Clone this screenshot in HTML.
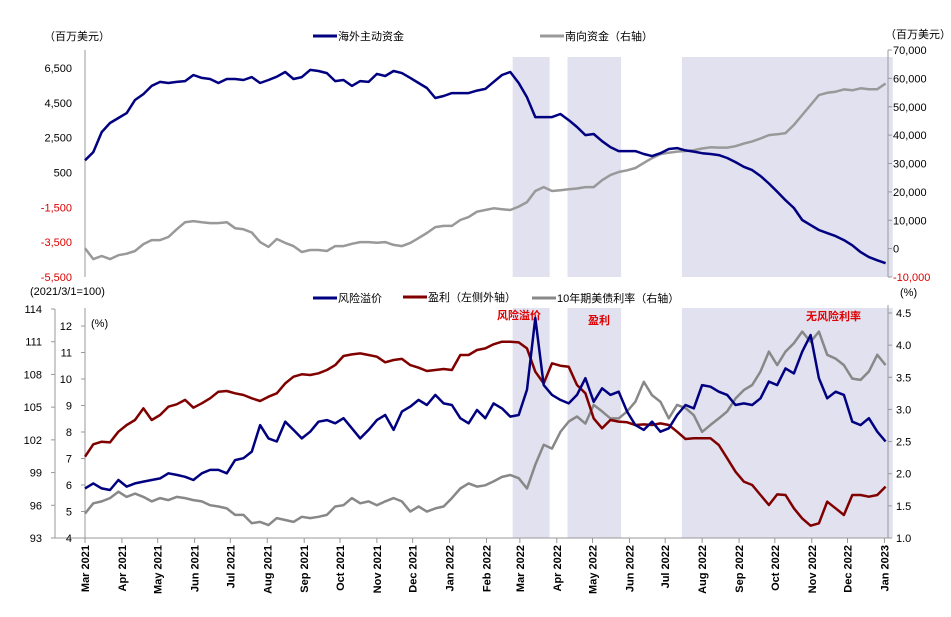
<!DOCTYPE html>
<html><head><meta charset="utf-8">
<style>
html,body{margin:0;padding:0;background:#fff;}
svg{display:block;font-family:"Liberation Sans","Noto Sans CJK SC",sans-serif;}
</style></head>
<body>
<svg id="chart" width="951" height="617" viewBox="0 0 951 617" xmlns="http://www.w3.org/2000/svg"></svg>
<script>
// ---------- DATA (weekly samples, week 0 = 2021-03-01) ----------
const topForeign = [1200,1670,2820,3340,3630,3910,4660,5000,5470,5700,5640,5700,5750,6100,5930,5870,5640,5870,5870,5810,5980,5640,5810,6000,6270,5870,5980,6390,6330,6210,5750,5810,5470,5750,5700,6160,6040,6330,6210,5930,5640,5350,4780,4890,5060,5060,5060,5200,
5300,5700,6100,6270,5640,4820,3680,3680,3680,3860,3510,3110,2650,2710,2300,1960,1730,1730,1730,1560,1440,1610,1850,1900,1770,1700,1610,1560,1500,1330,1100,830,640,300,-130,-600,-1090,-1540,-2230,-2520,-2800,-2980,-3150,-3380,-3680,-4070,-4360,-4540,-4710];
const topSouth = [100,-3700,-2600,-3700,-2300,-1800,-850,1600,3000,3000,4100,6800,9300,9700,9300,9000,9000,9300,7200,6800,5700,2300,600,3400,2000,900,-1200,-500,-500,-850,900,900,1700,2300,2300,2100,2300,1300,900,2000,3700,5500,7600,8000,8000,10100,11100,13000,
13600,14200,13900,13600,14800,16400,20300,21700,20300,20600,20900,21200,21700,21700,24100,25900,27000,27600,28400,30200,31900,33300,33800,34200,34400,34700,35300,35700,35600,35600,36100,37000,37800,38800,40000,40300,40700,43600,47100,50600,54100,54900,55300,56100,55800,56500,56200,56200,58200];
const riskPremium = [5.87,6.06,5.87,5.81,6.19,5.94,6.06,6.13,6.19,6.25,6.44,6.38,6.31,6.19,6.44,6.57,6.57,6.44,6.94,7.01,7.26,8.26,7.76,7.64,8.39,8.08,7.76,8.01,8.39,8.45,8.33,8.52,8.14,7.76,8.08,8.45,8.64,8.08,8.77,8.96,9.21,9.02,9.40,9.08,9.02,8.52,8.33,8.83,
8.52,9.08,8.89,8.58,8.64,9.6,12.3,9.77,9.40,9.21,9.08,9.40,10.03,9.14,9.65,9.40,9.52,8.77,8.26,8.08,8.39,8.01,8.14,8.64,9.02,8.89,9.77,9.71,9.52,9.40,9.02,9.08,9.02,9.27,9.90,9.77,10.40,10.21,11.03,11.66,10.03,9.27,9.52,9.40,8.39,8.26,8.52,8.01,7.64];
const earnings = [100.46,101.59,101.83,101.77,102.75,103.36,103.82,104.89,103.82,104.28,105.04,105.26,105.66,104.95,105.35,105.81,106.42,106.48,106.27,106.11,105.81,105.56,105.96,106.27,107.18,107.79,108.01,107.95,108.10,108.41,108.86,109.69,109.84,109.93,109.78,109.63,109.11,109.32,109.42,108.86,108.62,108.31,108.41,108.50,108.41,109.78,109.78,110.24,
110.39,110.76,111.0,111.0,110.94,110.39,108.25,107.18,109.02,108.80,108.71,107.03,106.27,103.97,103.06,103.82,103.67,103.61,103.36,103.42,103.36,103.51,103.36,102.75,102.08,102.14,102.14,102.14,101.53,100.31,99.08,98.17,97.86,96.94,96.03,97.0,96.94,95.72,94.80,94.13,94.35,96.33,95.72,95.11,96.94,96.94,96.79,96.94,97.71];
const ust10y = [1.38,1.54,1.57,1.62,1.72,1.64,1.69,1.64,1.57,1.62,1.59,1.64,1.62,1.59,1.57,1.51,1.49,1.46,1.36,1.36,1.23,1.25,1.20,1.31,1.28,1.25,1.33,1.31,1.33,1.36,1.49,1.51,1.62,1.54,1.57,1.51,1.57,1.62,1.57,1.41,1.49,1.41,1.46,1.49,1.62,1.77,1.85,1.80,
1.82,1.88,1.95,1.98,1.93,1.77,2.14,2.45,2.39,2.65,2.81,2.89,2.78,3.07,2.97,2.86,2.86,2.97,3.12,3.43,3.22,3.12,2.86,3.07,3.02,2.91,2.65,2.76,2.86,2.97,3.17,3.30,3.38,3.59,3.90,3.69,3.90,4.03,4.21,4.05,4.21,3.85,3.79,3.69,3.48,3.46,3.59,3.85,3.69];
const monthLabels = ["Mar 2021","Apr 2021","May 2021","Jun 2021","Jul 2021","Aug 2021","Sep 2021","Oct 2021","Nov 2021","Dec 2021","Jan 2022","Feb 2022","Mar 2022","Apr 2022","May 2022","Jun 2022","Jul 2022","Aug 2022","Sep 2022","Oct 2022","Nov 2022","Dec 2022","Jan 2023"];
const monthDays = [0,31,61,92,122,153,184,214,245,275,306,337,365,396,426,457,487,518,549,579,610,640,671];
const shadeStart = [359,405,501]; // day offsets
const shadeEnd = [390,450,678];
const topLeftTicks = [6500,4500,2500,500,-1500,-3500,-5500];
const topRightTicks = [70000,60000,50000,40000,30000,20000,10000,0,-10000];
const outerTicks = [114,111,108,105,102,99,96,93];
const innerTicks = [12,11,10,9,8,7,6,5,4];
const rightTicks = [4.5,4.0,3.5,3.0,2.5,2.0,1.5,1.0];

// ---------- SCALES ----------
const X0=85, X1=888, TOTALDAYS=674;
const xDay = d => X0 + d*(X1-X0)/TOTALDAYS;
const xWeek = i => xDay(i*7);
const yTopL = v => 68 + (6500-v)*(277-68)/12000;
const yTopR = v => 50 + (70000-v)*(277-50)/80000;
const yOuter = v => 309 + (114-v)*(538-309)/21;
const yInner = v => 326 + (12-v)*(538-326)/8;
const yRight = v => 313 + (4.5-v)*(538-313)/3.5;

const NS="http://www.w3.org/2000/svg";
const svg=document.getElementById('chart');
function mk(tag, attrs, parent){const e=document.createElementNS(NS,tag);for(const k in attrs)e.setAttribute(k,attrs[k]);(parent||svg).appendChild(e);return e;}
function txt(x,y,s,attrs){const e=mk('text',Object.assign({x:x,y:y,'font-size':11,fill:'#000'},attrs||{}));e.textContent=s;return e;}
const fmt = v => (v<0?'-':'')+Math.abs(v).toLocaleString('en-US');

// shading
for(let k=0;k<shadeStart.length;k++){
  const r=mk('rect',{x:xDay(shadeStart[k]),y:57,width:xDay(shadeEnd[k])-xDay(shadeStart[k]),height:220,fill:'#e1e1ef'});
  
  
  const r2=mk('rect',{x:xDay(shadeStart[k]),y:308,width:xDay(shadeEnd[k])-xDay(shadeStart[k]),height:230,fill:'#e1e1ef'});
  
  
}

// ---------- TOP CHART AXES ----------
let a=mk('line',{x1:85,y1:50,x2:85,y2:277,stroke:'#999'});


a=mk('line',{x1:888,y1:50,x2:888,y2:277,stroke:'#999'});


topLeftTicks.forEach(v=>{
  const t=txt(72,yTopL(v)+4,fmt(v),{'text-anchor':'end',fill:v<0?'#d00':'#000'});
  
  
});
topRightTicks.forEach(v=>{
  mk('line',{x1:888,y1:yTopR(v),x2:892,y2:yTopR(v),stroke:'#999'});
  const t=txt(893,yTopR(v)+4,fmt(v),{fill:v<0?'#d00':'#000'});
  
  
});
let t=txt(44,40,'（百万美元）',{});


t=txt(885,38,'（百万美元）',{});



// top legend
let g=mk('g',{});


mk('line',{x1:313,y1:36,x2:337,y2:36,stroke:'#000080','stroke-width':3},g);
g.appendChild(txt(338,40,'海外主动资金'));
g=mk('g',{});


mk('line',{x1:540,y1:36,x2:564,y2:36,stroke:'#999','stroke-width':3},g);
g.appendChild(txt(565,40,'南向资金（右轴）'));

function line(arr, xf, yf, color, name){
  const d=arr.map((v,i)=>(i?'L':'M')+xf(i).toFixed(1)+','+yf(v).toFixed(1)).join('');
  const p=mk('path',{d:d,fill:'none',stroke:color,'stroke-width':2.5,'stroke-linejoin':'round'});
  
  
}
line(topSouth, xWeek, yTopR, '#999999', 'southbound-funds-line');
line(topForeign, xWeek, yTopL, '#000080', 'foreign-funds-line');

// ---------- BOTTOM CHART ----------
a=mk('line',{x1:55,y1:309,x2:55,y2:538,stroke:'#999'});


a=mk('line',{x1:85,y1:308,x2:85,y2:538,stroke:'#999'});


a=mk('line',{x1:888,y1:305,x2:888,y2:538,stroke:'#999'});


a=mk('line',{x1:55,y1:538,x2:888,y2:538,stroke:'#999'});


outerTicks.forEach(v=>{
  mk('line',{x1:51,y1:yOuter(v),x2:55,y2:yOuter(v),stroke:'#999'});
  const tt=txt(42,yOuter(v)+4,String(v),{'text-anchor':'end'});
  
  
});
innerTicks.forEach(v=>{
  mk('line',{x1:81,y1:yInner(v),x2:85,y2:yInner(v),stroke:'#999'});
  const tt=txt(72,yInner(v)+4,String(v),{'text-anchor':'end'});
  
  
});
rightTicks.forEach(v=>{
  mk('line',{x1:888,y1:yRight(v),x2:892,y2:yRight(v),stroke:'#999'});
  const tt=txt(896,yRight(v)+4,v.toFixed(1),{});
  
  
});
monthLabels.forEach((m,i)=>{
  const x=xDay(monthDays[i]);
  mk('line',{x1:x,y1:538,x2:x,y2:543,stroke:'#999'});
  const tt=txt(0,0,m,{'text-anchor':'end',transform:'translate('+(x+4)+',545) rotate(-90)','font-weight':'bold'});
  
  
});
t=txt(30,295,'(2021/3/1=100)',{});


t=txt(91,327,'(%)',{});


t=txt(900,296,'(%)',{});



g=mk('g',{});


mk('line',{x1:313,y1:298,x2:337,y2:298,stroke:'#000080','stroke-width':3},g);
g.appendChild(txt(338,302,'风险溢价'));
g=mk('g',{});


mk('line',{x1:403,y1:297,x2:427,y2:297,stroke:'#800000','stroke-width':3},g);
g.appendChild(txt(428,301,'盈利（左侧外轴）'));
g=mk('g',{});


mk('line',{x1:532,y1:298,x2:556,y2:298,stroke:'#888','stroke-width':3},g);
g.appendChild(txt(557,302,'10年期美债利率（右轴）'));

t=txt(497,319,'风险溢价',{fill:'#e00000','font-weight':'bold'});


t=txt(588,324,'盈利',{fill:'#e00000','font-weight':'bold'});


t=txt(806,320,'无风险利率',{fill:'#e00000','font-weight':'bold'});



line(ust10y, xWeek, yRight, '#888888', 'ust10y-line');
line(earnings, xWeek, yOuter, '#800000', 'earnings-line');
line(riskPremium, xWeek, yInner, '#000080', 'risk-premium-line');
</script>
</body></html>
